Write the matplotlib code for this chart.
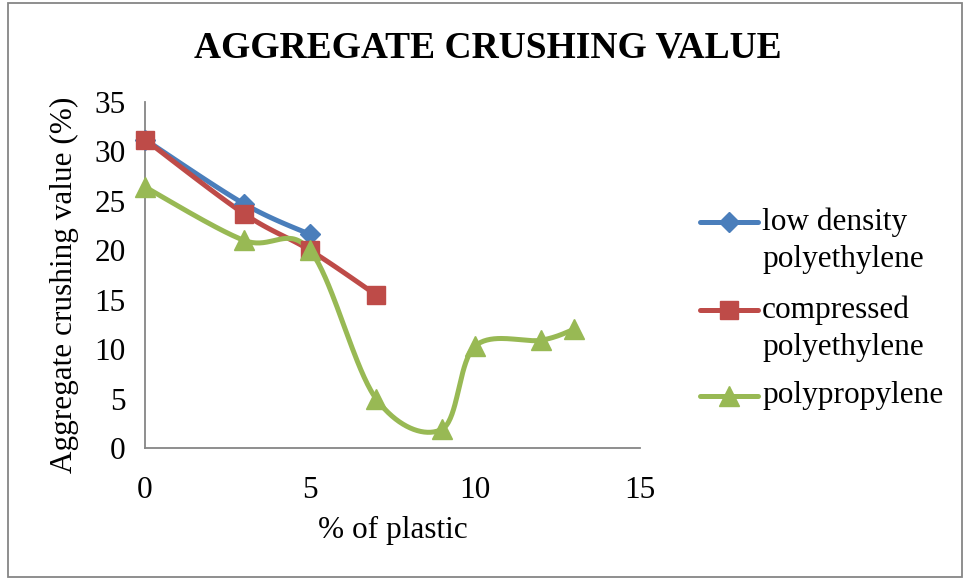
import numpy as np
import matplotlib
matplotlib.use("Agg")
import matplotlib.pyplot as plt
from matplotlib.lines import Line2D
from matplotlib.patches import Rectangle

plt.rcParams['font.family'] = ['Liberation Serif', 'DejaVu Serif']

title = "AGGREGATE CRUSHING VALUE"
xlabel = "% of plastic"
ylabel = "Aggregate crushing value (%)"

ldpe_x = [0, 3, 5]
ldpe_y = [31.2, 24.7, 21.6]
comp_x = [0, 3, 5, 7]
comp_y = [31.2, 23.7, 20.0, 15.5]
pp_x = [0, 3, 5, 7, 9, 10, 12, 13]
pp_y = [26.4, 21.0, 20.0, 5.0, 1.9, 10.3, 10.9, 12.0]

names = [["low density", "polyethylene"], ["compressed", "polyethylene"], ["polypropylene"]]
colors = ["#4A7EBB", "#BE4B48", "#98B954"]
markers = ["D", "s", "^"]
msizes = [10, 13, 14]

xlim = (0, 15)
ylim = (0, 35)
xticks = [0, 5, 10, 15]
yticks = [0, 5, 10, 15, 20, 25, 30, 35]

FS = 22.5

fig = plt.figure(figsize=(9.65, 5.8), dpi=100)
ax = fig.add_axes([145/965, 1-448/580, 495/965, 346/580])
ax.set_xlim(*xlim)
ax.set_ylim(*ylim)

def smooth(xs, ys, n=40):
    # Excel-like smoothed line (Catmull-Rom Bezier) computed in axis-normalized space
    sx = (xlim[1]-xlim[0]) / 495.0
    sy = (ylim[1]-ylim[0]) / 346.0
    P = np.column_stack([(np.array(xs)-xlim[0])/sx, (np.array(ys)-ylim[0])/sy])
    if len(P) < 2:
        return xs, ys
    out = [P[0]]
    for i in range(len(P)-1):
        p0 = P[i-1] if i > 0 else P[i]
        p1 = P[i]
        p2 = P[i+1]
        p3 = P[i+2] if i+2 < len(P) else P[i+1]
        c1 = p1 + (p2-p0)/6.0
        c2 = p2 - (p3-p1)/6.0
        t = np.linspace(0, 1, n)[1:, None]
        B = ((1-t)**3)*p1 + 3*((1-t)**2)*t*c1 + 3*(1-t)*t**2*c2 + t**3*p2
        out.extend(B)
    out = np.array(out)
    return out[:, 0]*sx + xlim[0], out[:, 1]*sy + ylim[0]

series = [(ldpe_x, ldpe_y), (comp_x, comp_y), (pp_x, pp_y)]
for (xs, ys), c in zip(series, colors):
    lx, ly = smooth(xs, ys)
    ax.plot(lx, ly, color=c, lw=3.6, solid_capstyle='round', zorder=2, clip_on=False)
for (xs, ys), c, m, ms in zip(series, colors, markers, msizes):
    ax.plot(xs, ys, ls='none', marker=m, ms=ms, color=c, mec=c, zorder=3, clip_on=False)

for s in ['top', 'right']:
    ax.spines[s].set_visible(False)
for s in ['left', 'bottom']:
    ax.spines[s].set_color('#868686')
    ax.spines[s].set_linewidth(1.3)
ax.set_xticks(xticks)
ax.set_yticks(yticks)
ax.tick_params(axis='both', length=0, labelsize=FS)
ax.tick_params(axis='x', pad=20)
ax.tick_params(axis='y', pad=14)

fig.text(393/965, 1-530/580, xlabel, ha='center', va='center', fontsize=FS)
fig.text(64/965, 1-285/580, ylabel, ha='center', va='center', fontsize=FS, rotation=90)

fig.text(488/965, 1-48/580, title, ha='center', va='center', fontsize=27, fontweight='bold')

# legend drawn manually (Excel style: handle aligned with first text line)
leg_y = [222, 310, 396]
for y, c, m, ms, nm in zip(leg_y, colors, markers, msizes, names):
    yf = 1 - y/580
    fig.add_artist(Line2D([700/965, 758/965], [yf, yf], color=c, lw=3.6,
                          solid_capstyle='round', transform=fig.transFigure))
    fig.add_artist(Line2D([729/965], [yf], marker=m, ms=ms, color=c, mec=c,
                          transform=fig.transFigure))
    for k, line in enumerate(nm):
        fig.text(762/965, 1 - (y + 38*k)/580, line, ha='left', va='center', fontsize=FS)

fig.add_artist(Rectangle((8/965, 3/580), 954/965, 574/580, fill=False,
                         edgecolor='#868686', lw=1.3, transform=fig.transFigure))

fig.savefig("out.png", dpi=100)
